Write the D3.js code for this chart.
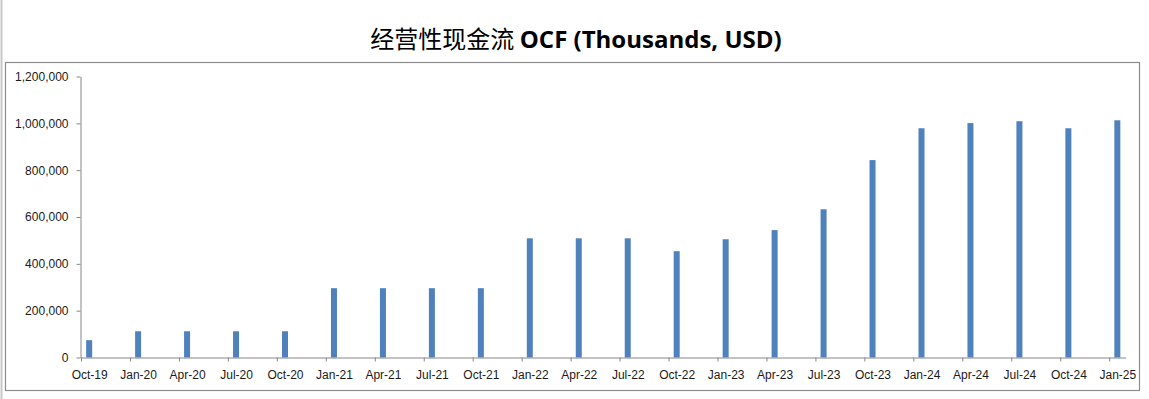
<!DOCTYPE html>
<html>
<head>
<meta charset="UTF-8">
<title>OCF</title>
<script src="https://d3js.org/d3.v7.min.js"></script>
<style>
  body { margin: 0; background: #fff; }
  svg { display: block; }
</style>
</head>
<body>
<svg id="chart" width="1149" height="399"></svg>
<script>
// quarterly data, three months apart
var quarters = ["Oct-19", "Jan-20", "Apr-20", "Jul-20", "Oct-20", "Jan-21", "Apr-21", "Jul-21",
  "Oct-21", "Jan-22", "Apr-22", "Jul-22", "Oct-22", "Jan-23", "Apr-23", "Jul-23",
  "Oct-23", "Jan-24", "Apr-24", "Jul-24", "Oct-24", "Jan-25"];
var ocf = [74000, 112000, 112000, 112000, 112000, 296000, 296000, 296000,
  296000, 509000, 509000, 509000, 454000, 505000, 544000, 633000,
  843000, 979000, 1001000, 1009000, 979000, 1013000];
var yTicks = [0, 200000, 400000, 600000, 800000, 1000000, 1200000];

var svg = d3.select("#chart");
var font = "'Liberation Sans', Arial, sans-serif";

// outer border bits
svg.append("line")
  .attr("x1", 1.5).attr("x2", 1.5).attr("y1", 0).attr("y2", 399)
  .attr("stroke", "#c8c8c8").attr("stroke-width", 2);

// plot area frame
svg.append("rect")
  .attr("x", 5.5).attr("y", 62.5).attr("width", 1134).attr("height", 328)
  .attr("fill", "none").attr("stroke", "#8c8c8c").attr("stroke-width", 1.2);

// title
var title = svg.append("text")
  .attr("x", 576).attr("y", 48)
  .attr("text-anchor", "middle")
  .attr("font-size", "24px")
  .attr("fill", "#000");
title.append("tspan")
  .attr("font-family", "'Noto Sans CJK SC', sans-serif")
  .text("经营性现金流 ");
title.append("tspan")
  .attr("font-family", "'Open Sans', 'Liberation Sans', sans-serif")
  .attr("font-weight", "bold")
  .text("OCF (Thousands, USD)");

// month based x scale, bars sit in the middle of their month
var months = quarters.length * 3 - 2;
var x = d3.scaleLinear().domain([0, months]).range([81, 1125.5]);
var y = d3.scaleLinear().domain([0, 1200000]).range([357.5, 76.5]);

var barW = 6;

svg.append("g")
  .selectAll("rect")
  .data(ocf)
  .enter().append("rect")
  .attr("x", function (d, i) { return x(i * 3 + 0.5) - barW / 2; })
  .attr("y", function (d) { return y(d); })
  .attr("width", barW)
  .attr("height", function (d) { return y(0) - y(d); })
  .attr("fill", "#4f81bd");

var yAxis = d3.axisLeft(y)
  .tickValues(yTicks)
  .tickSizeInner(4).tickSizeOuter(0)
  .tickPadding(8)
  .tickFormat(d3.format(","));

var gy = svg.append("g")
  .attr("transform", "translate(80.5,0)")
  .call(yAxis);

var xAxis = d3.axisBottom(x)
  .tickValues(d3.range(quarters.length).map(function (i) { return i * 3; }))
  .tickSizeInner(4).tickSizeOuter(0)
  .tickPadding(9)
  .tickFormat(function (d) { return quarters[d / 3]; });

var gx = svg.append("g")
  .attr("transform", "translate(0," + y(0) + ")")
  .call(xAxis);

// labels sit over the month, not on the tick
var halfMonth = x(0.5) - x(0);
gx.selectAll(".tick text").attr("x", halfMonth);

[gx, gy].forEach(function (g) {
  g.selectAll(".domain, .tick line").attr("stroke", "#868686");
  g.selectAll("text")
    .attr("font-family", font)
    .attr("font-size", "12px")
    .attr("fill", "#1a1a1a");
});
</script>
</body>
</html>
